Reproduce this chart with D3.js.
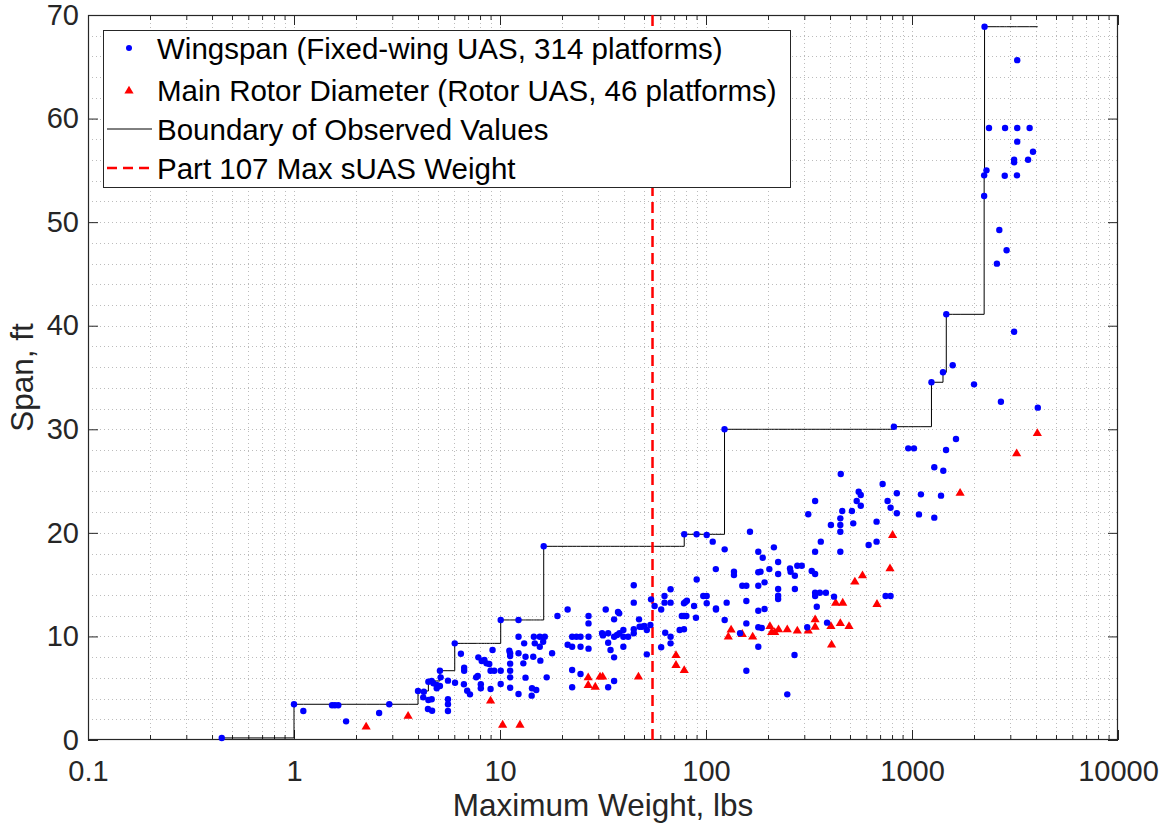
<!DOCTYPE html>
<html>
<head>
<meta charset="utf-8">
<script src="https://cdn.jsdelivr.net/npm/d3@7"></script>
<style>
  body { margin: 0; background: #fff; }
  svg text { font-family: "Liberation Sans", Arial, Helvetica, sans-serif; }
</style>
</head>
<body>
<svg id="chart" width="1167" height="829"></svg>
<script>
// Fixed-wing UAS: [maximum weight (lbs), wingspan (ft)]
const wingspanPoints = [
  [0.446,0.2],[1.0,3.45],[1.11,2.8],[1.53,3.35],[1.58,3.35],[1.64,3.35],[1.79,1.8],[2.59,2.6],[2.9,3.45],
  [4.0,4.73],[4.24,4.12],[4.27,4.66],[4.49,5.63],[4.66,5.7],[4.75,5.47],[4.93,5.31],[4.93,4.99],[5.11,5.21],
  [5.15,6.05],[5.11,6.69],[4.49,3.86],[4.66,3.93],[4.47,2.99],[4.68,2.83],[5.59,3.93],[5.59,3.45],[5.59,2.8],
  [5.59,5.73],[6.05,5.53],[6.03,9.33],[6.46,8.33],[6.7,6.98],[6.7,6.69],[6.68,5.38],[6.93,4.76],[7.15,4.41],
  [7.66,6.05],[7.8,6.18],[7.85,7.98],[8.15,7.63],[8.4,7.72],[8.6,7.4],[8.87,7.34],[9.0,6.69],[9.38,6.69],
  [9.2,8.69],[8.07,5.38],[8.07,4.99],[9.0,4.92],[10.08,6.69],[10.08,5.41],[10.08,11.59],[11.1,8.62],[11.2,8.37],
  [11.2,8.11],[11.2,7.37],[11.2,6.69],[11.2,6.05],[11.2,5.05],[12.3,9.97],[12.3,8.37],[12.3,4.44],[12.98,7.4],
  [13.1,9.33],[13.3,8.04],[13.3,6.02],[14.25,4.28],[14.3,4.99],[14.5,8.04],[14.6,9.97],[14.75,9.33],[15.0,4.83],
  [15.6,9.97],[15.6,9.0],[15.7,7.66],[16.5,9.97],[16.2,9.49],[16.85,6.05],[17.9,8.37],[19.0,11.97],[12.3,11.59],
  [16.3,18.7],
  [21.3,12.6],[22.4,6.76],[22.4,5.09],[24.6,6.37],[21.3,9.2],[22.4,9.0],[22.4,9.97],[23.5,9.97],[24.6,9.97],
  [24.6,9.0],[26.9,11.97],[26.9,11.26],[26.9,9.97],[26.9,8.82],[31.3,10.3],[31.6,10.1],[32.6,12.6],[33.5,10.3],
  [33.5,9.39],[34.4,8.69],[35.8,7.98],[35.8,11.65],[37.9,12.23],[35.8,9.97],[37.0,10.14],[38.0,10.3],[39.7,10.62],
  [39.7,9.97],[39.7,9.0],[41.9,9.97],[44.6,10.69],[44.6,10.3],[44.6,13.26],[44.6,14.94],[47.3,11.65],[47.6,10.94],
  [48.9,10.94],[50.2,11.0],[51.6,10.62],[53.7,11.1],[51.6,8.27],[54.1,13.58],[56.3,12.94],[60.6,12.6],[60.6,8.95],
  [62.9,13.9],[62.9,13.26],[63.4,10.36],[67.3,13.26],[67.3,14.55],[67.3,9.97],[67.3,9.33],[74.5,10.62],[78.2,10.69],
  [78.2,13.2],[79.5,13.32],[80.8,13.45],[76.3,11.97],[78.2,11.97],[80.3,11.97],[87.5,12.94],[89.4,11.81],[90.1,15.5],
  [97.0,13.9],[100.8,13.9],[100.8,13.2],[111.8,12.71],[33.5,5.09],[35.8,5.7],[37.4,12.36],
  [78.4,19.86],[90.0,19.86],[123,30.0],
  [100.8,19.8],[107.8,19.15],[123.2,18.41],[163.5,20.11],[111.6,16.5],[136.7,16.25],[136.7,15.93],[150,14.9],
  [157,14.9],[179.4,14.9],[179.4,16.19],[184,16.25],[179.4,18.18],[188.5,17.6],[213.6,18.6],[224,17.19],[224,16.03],
  [203,16.5],[192.4,15.22],[224,14.58],[224,13.93],[224,13.61],[255.7,16.57],[257.5,16.25],[270,15.86],[277.5,16.83],
  [291.6,16.83],[270,14.58],[313.6,21.79],[338.6,23.08],[338.6,18.18],[360.8,19.15],[326,16.32],[338.6,16.03],
  [338.6,14.22],[338.6,13.9],[357,14.22],[382,14.22],[345,12.87],[418.4,13.84],[404,20.76],[448.8,21.4],[448.8,20.76],
  [448.8,20.11],[448.8,18.18],[458.6,22.11],[511,22.11],[518.5,20.92],[539,23.08],[564,22.62],[551,23.97],[564,23.66],
  [673,21.08],[616,18.83],[673,19.15],[761,23.08],[787,22.43],[844,21.89],[844,23.82],[744.5,13.9],[787,13.9],
  [111.8,12.6],[126,13.26],[123.2,11.59],[157,13.42],[157,11.26],[179.4,12.48],[192.4,12.65],[179.4,10.88],
  [186.5,10.81],[146.3,10.3],[179.4,9.0],[157,6.69],[269,8.21],[248,4.41],[310,10.88],[387,11.33],
  [1243,34.54],[2000,34.34],[2702,32.66],[4080,32.09],[817,30.25],[959,28.16],[1022,28.16],[1463,28.0],[1635,29.06],
  [1283,26.33],[1419,26.0],[451,25.68],[720,24.72],[1105,23.72],[1383,23.59],[1081,21.78],[1283,21.47],
  [2250,68.87],[3242,65.64],[2365,59.09],[2830,59.09],[3242,59.09],[3724,59.09],[3242,57.77],[3867,56.8],
  [3132,56.03],[3132,55.78],[3660,56.03],[2299,55.0],[2240,54.52],[2820,54.48],[3232,54.52],[2240,52.52],
  [2654,49.24],[2879,47.28],[2583,45.99],[1467,41.1],[3132,39.42],[1576,36.18],[1414,35.5]
];

// Rotor UAS: [maximum weight (lbs), main rotor diameter (ft)]
const rotorPoints = [
  [2.24,1.35],[3.58,2.4],[9.0,3.86],[10.3,1.54],[12.5,1.54],[26.8,6.12],[26.8,5.38],[29.0,5.21],[30.6,6.18],
  [31.5,6.18],[47.0,6.18],[71.5,8.27],[71.5,7.31],[78.4,6.82],[128.3,10.04],[132.4,10.72],[150,10.3],[168.5,10.04],
  [204.4,11.07],[208.3,10.49],[215.5,10.49],[225,10.75],[248,10.75],[277.5,10.62],[313.6,10.62],[338.6,11.0],
  [338.6,11.71],[404,11.07],[407,9.27],[426,13.32],[461,13.32],[448.8,11.36],[494.6,11.07],[528,15.35],[575,15.96],
  [676,13.2],[782,16.64],[805,19.86],[1712,23.92],[3222,27.74],[4059,29.7]
];

// FAA Part 107 small UAS weight limit (lbs)
const part107MaxWeight = 55;

const xTickValues = [0.1, 1, 10, 100, 1000, 10000];
const xTickLabels = ["0.1", "1", "10", "100", "1000", "10000"];
const yTickValues = [0, 10, 20, 30, 40, 50, 60, 70];
const yTickLabels = ["0", "10", "20", "30", "40", "50", "60", "70"];

const legendLabels = [
  "Wingspan (Fixed-wing UAS, 314 platforms)",
  "Main Rotor Diameter (Rotor UAS, 46 platforms)",
  "Boundary of Observed Values",
  "Part 107 Max sUAS Weight"
];

const xLabel = "Maximum Weight, lbs";
const yLabel = "Span, ft";

// ---- layout ----
const plot = { left: 88, right: 1118, top: 15, bottom: 740 };
const axisColor = "#262626";
const tickFont = 29;
const labelFont = 31.5;
const legendFont = 29.5;

const svg = d3.select("#chart");

const x = d3.scaleLog().domain([0.1, 10000]).range([plot.left, plot.right]);
const y = d3.scaleLinear().domain([0, 70]).range([plot.bottom, plot.top]);

// minor values for the log axis (2..9 within each decade)
const xMinor = [];
[0.1, 1, 10, 100, 1000].forEach(d => { for (let k = 2; k <= 9; k++) xMinor.push(d * k); });
const yMinor = d3.range(2, 70, 2).filter(v => v % 10 !== 0);

// ---- grid ----
const grid = svg.append("g").attr("stroke", "#bcbcbc").attr("stroke-width", 1)
  .attr("stroke-dasharray", "1,3").attr("fill", "none");
xMinor.concat(xTickValues.slice(1, -1)).forEach(v => {
  grid.append("line").attr("x1", Math.round(x(v)) + 0.5).attr("x2", Math.round(x(v)) + 0.5)
    .attr("y1", plot.top).attr("y2", plot.bottom);
});
yMinor.concat(yTickValues.slice(1, -1)).forEach(v => {
  grid.append("line").attr("y1", Math.round(y(v)) + 0.5).attr("y2", Math.round(y(v)) + 0.5)
    .attr("x1", plot.left).attr("x2", plot.right);
});

// ---- axes (ticks point inward on all four sides) ----
function styleAxis(g) {
  g.select(".domain").remove();
  g.selectAll(".tick line").attr("stroke", axisColor);
  g.selectAll(".tick text").attr("fill", axisColor).attr("font-size", tickFont);
}

svg.append("g").attr("transform", `translate(0,${plot.bottom})`)
  .call(d3.axisBottom(x).tickValues(xTickValues).tickFormat((d, i) => xTickLabels[i])
    .tickSizeInner(-10).tickSizeOuter(0).tickPadding(20))
  .call(styleAxis);
svg.append("g").attr("transform", `translate(0,${plot.bottom})`)
  .call(d3.axisBottom(x).tickValues(xMinor).tickFormat("").tickSizeInner(-5).tickSizeOuter(0))
  .call(styleAxis);
svg.append("g").attr("transform", `translate(0,${plot.top})`)
  .call(d3.axisTop(x).tickValues(xTickValues).tickFormat("").tickSizeInner(-10).tickSizeOuter(0))
  .call(styleAxis);
svg.append("g").attr("transform", `translate(0,${plot.top})`)
  .call(d3.axisTop(x).tickValues(xMinor).tickFormat("").tickSizeInner(-5).tickSizeOuter(0))
  .call(styleAxis);
svg.append("g").attr("transform", `translate(${plot.left},0)`)
  .call(d3.axisLeft(y).tickValues(yTickValues).tickFormat((d, i) => yTickLabels[i])
    .tickSizeInner(-10).tickSizeOuter(0).tickPadding(9))
  .call(styleAxis);
svg.append("g").attr("transform", `translate(${plot.right},0)`)
  .call(d3.axisRight(y).tickValues(yTickValues).tickFormat("").tickSizeInner(-10).tickSizeOuter(0))
  .call(styleAxis);

// axes box
svg.append("rect").attr("x", plot.left + 0.5).attr("y", plot.top + 0.5)
  .attr("width", plot.right - plot.left - 1).attr("height", plot.bottom - plot.top - 1)
  .attr("fill", "none").attr("stroke", axisColor).attr("stroke-width", 1.2);

// ---- boundary of observed values: running maximum span over increasing weight ----
const sorted = wingspanPoints.concat(rotorPoints).slice().sort((a, b) => a[0] - b[0]);
let runMax = -Infinity;
const boundary = sorted.map(([w, s]) => { runMax = Math.max(runMax, s); return [w, runMax]; });
svg.append("path").datum(boundary)
  .attr("d", d3.line().x(d => x(d[0])).y(d => y(d[1])).curve(d3.curveStepAfter))
  .attr("fill", "none").attr("stroke", "#000").attr("stroke-width", 1);

// ---- Part 107 limit ----
svg.append("line")
  .attr("x1", x(part107MaxWeight)).attr("x2", x(part107MaxWeight))
  .attr("y1", y(70)).attr("y2", y(0))
  .attr("stroke", "#ff0000").attr("stroke-width", 2.5).attr("stroke-dasharray", "11,6");

// ---- markers ----
const triangle = "M0,-4.2L4.6,3.6L-4.6,3.6Z";
svg.append("g").selectAll("path").data(rotorPoints).join("path")
  .attr("d", triangle)
  .attr("transform", d => `translate(${x(d[0])},${y(d[1])})`)
  .attr("fill", "#ff0000");
svg.append("g").selectAll("circle").data(wingspanPoints).join("circle")
  .attr("cx", d => x(d[0])).attr("cy", d => y(d[1])).attr("r", 3.2)
  .attr("fill", "#0000ff");

// ---- axis labels ----
svg.append("text").attr("x", (plot.left + plot.right) / 2).attr("y", 816)
  .attr("text-anchor", "middle").attr("font-size", labelFont).attr("fill", axisColor).text(xLabel);
svg.append("text").attr("transform", `translate(33,${(plot.top + plot.bottom) / 2}) rotate(-90)`)
  .attr("text-anchor", "middle").attr("font-size", labelFont).attr("fill", axisColor).text(yLabel);

// ---- legend ----
const leg = svg.append("g");
leg.append("rect").attr("x", 103.5).attr("y", 30.5).attr("width", 687).attr("height", 157)
  .attr("fill", "#fff").attr("stroke", axisColor).attr("stroke-width", 1);
const rowY = [48, 90, 129, 168];
leg.append("circle").attr("cx", 129).attr("cy", rowY[0]).attr("r", 3).attr("fill", "#0000ff");
leg.append("path").attr("d", triangle).attr("transform", `translate(129,${rowY[1]})`).attr("fill", "#ff0000");
leg.append("line").attr("x1", 107).attr("x2", 152).attr("y1", rowY[2]).attr("y2", rowY[2])
  .attr("stroke", "#000").attr("stroke-width", 1);
leg.append("line").attr("x1", 107).attr("x2", 152).attr("y1", rowY[3]).attr("y2", rowY[3])
  .attr("stroke", "#ff0000").attr("stroke-width", 2.5).attr("stroke-dasharray", "10,6");
legendLabels.forEach((t, i) => {
  leg.append("text").attr("x", 157).attr("y", rowY[i] + legendFont * 0.36)
    .attr("font-size", legendFont).attr("fill", "#000").text(t);
});
</script>
</body>
</html>
